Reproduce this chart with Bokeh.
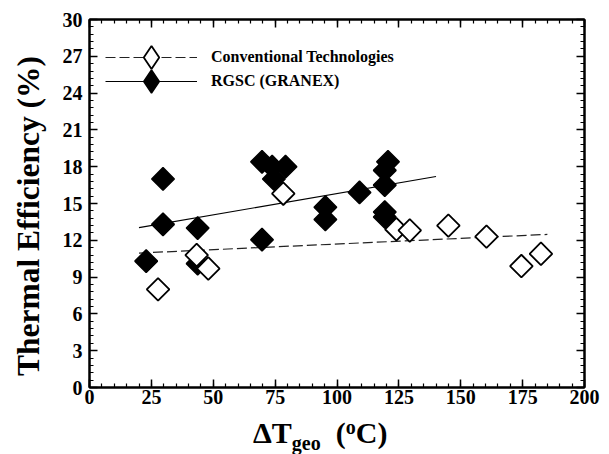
import math
from bokeh.plotting import figure
from bokeh.layouts import column, row
from bokeh.models import (LinearAxis, SingleIntervalTicker, Legend, LegendItem, Div,
                          CustomJSTickFormatter)
from bokeh.embed import file_html
from bokeh.resources import INLINE

# ---- data ----
conv_x = [27.7, 43.3, 48.0, 78.3, 124.0, 129.4, 145.0, 160.4, 174.5, 182.4]
conv_y = [8.0, 10.8, 9.7, 15.8, 12.9, 12.8, 13.2, 12.3, 9.9, 10.9]

rgsc_x = [22.9, 29.7, 29.7, 43.7, 43.7, 69.7, 69.7, 73.8, 74.5, 79.2,
          95.3, 95.3, 109.1, 119.3, 119.3, 119.3, 119.3, 120.6]
rgsc_y = [10.3, 17.0, 13.3, 13.0, 10.1, 18.4, 12.05, 18.0, 17.0, 18.0,
          14.7, 13.7, 15.9, 17.7, 16.5, 14.3, 13.9, 18.4]

conv_fit_x = [20, 185]
conv_fit_y = [10.96, 12.48]
rgsc_fit_x = [20, 140]
rgsc_fit_y = [13.03, 17.2]

series_names = ["Conventional Technologies", "RGSC (GRANEX)"]
y_title = "Thermal Efficiency (%)"

FONT = "Liberation Serif"
CSS_FONT = ("font-family:'Liberation Serif','Times New Roman',Times,serif !important;"
            "font-weight:bold;color:black;")
HOST_STYLE = {"font-family": "'Liberation Serif', 'Times New Roman', Times, serif",
              "font-weight": "bold", "color": "black"}

PW = 557
p = figure(width=PW, height=418, x_range=(0, 200), y_range=(0, 30),
           output_backend="svg", toolbar_location=None,
           min_border_left=41, min_border_right=21,
           min_border_top=19, min_border_bottom=31)
p.xgrid.visible = False
p.ygrid.visible = False
p.outline_line_color = "black"
p.outline_line_width = 2
p.background_fill_color = "white"
p.border_fill_color = "white"

p.xaxis.ticker = SingleIntervalTicker(interval=25, num_minor_ticks=5)
p.yaxis.ticker = SingleIntervalTicker(interval=3, num_minor_ticks=5)

def style_axis(ax, show_labels):
    ax.axis_line_width = 2
    ax.axis_line_color = "black"
    ax.major_tick_in = 8
    ax.major_tick_out = 0
    ax.minor_tick_in = 4
    ax.minor_tick_out = 0
    ax.major_tick_line_width = 1.5
    ax.minor_tick_line_width = 1.2
    ax.major_tick_line_color = "black"
    ax.minor_tick_line_color = "black"
    if show_labels:
        ax.major_label_text_font = FONT
        ax.major_label_text_font_style = "bold"
        ax.major_label_text_font_size = "20px"
        ax.major_label_text_color = "black"
    else:
        ax.formatter = CustomJSTickFormatter(code="return ''")
        ax.major_label_standoff = 0

style_axis(p.xaxis[0], True)
style_axis(p.yaxis[0], True)
p.xaxis[0].major_label_standoff = 2
p.yaxis[0].major_label_standoff = 7

ax_r = LinearAxis(ticker=SingleIntervalTicker(interval=3, num_minor_ticks=5))
style_axis(ax_r, False)
p.add_layout(ax_r, "right")
ax_t = LinearAxis(ticker=SingleIntervalTicker(interval=25, num_minor_ticks=5))
style_axis(ax_t, False)
p.add_layout(ax_t, "above")

# fit lines
l_conv = p.line(conv_fit_x, conv_fit_y, line_color="#222222", line_width=1.2, line_dash="10 4")
l_rgsc = p.line(rgsc_fit_x, rgsc_fit_y, line_color="black", line_width=1.2)

# data markers (rotated squares = diamonds)
s_rgsc = p.scatter(rgsc_x, rgsc_y, marker="square", size=16, angle=math.pi / 4,
                   fill_color="black", line_color="black", line_width=1.5)
s_conv = p.scatter(conv_x, conv_y, marker="square", size=16, angle=math.pi / 4,
                   fill_color="white", line_color="black", line_width=1.8)

# legend sample markers (not shown in the plot area: NaN position)
nan = float("nan")
k_conv = p.scatter([nan], [nan], marker="diamond", size=23,
                   fill_color="white", line_color="black", line_width=1.8)
k_rgsc = p.scatter([nan], [nan], marker="diamond", size=23,
                   fill_color="black", line_color="black", line_width=1.5)

def make_legend(label, renderers, loc):
    return Legend(items=[LegendItem(label=label, renderers=renderers)],
                  location=loc, glyph_width=92, glyph_height=58, spacing=0,
                  padding=0, margin=0, label_standoff=14,
                  label_text_font=FONT, label_text_font_style="bold",
                  label_text_font_size="16px", label_text_color="black",
                  border_line_color=None, background_fill_alpha=0)

p.add_layout(make_legend(series_names[0], [l_conv, k_conv], (16, 301)), "center")
p.add_layout(make_legend(series_names[1], [l_rgsc, k_rgsc], (16, 277)), "center")

# x-axis title with subscript / superscript as real text
xlab = Div(width=PW, height=36, margin=0, styles=HOST_STYLE,
           text=('<div style="' + CSS_FONT +
                 'font-size:30px;line-height:30px;padding-left:205px;white-space:nowrap">'
                 '&Delta;T<span style="font-size:20px;position:relative;top:7px">'
                 'geo</span>&nbsp;&nbsp;(<span style="font-size:20px;position:relative;'
                 'top:-9px">o</span>C)</div>'))

# y-axis title, rotated
ylab = Div(width=48, height=454, margin=0, styles=HOST_STYLE,
           text=('<div style="position:absolute;left:29px;top:216px;'
                 'transform:translate(-50%,-50%) rotate(-90deg);white-space:nowrap;' +
                 CSS_FONT + 'font-size:31.5px;line-height:32px">' + y_title + '</div>'))

layout = row(ylab, column(p, xlab, spacing=0), spacing=0)

open("out.html", "w").write(file_html(layout, INLINE))
